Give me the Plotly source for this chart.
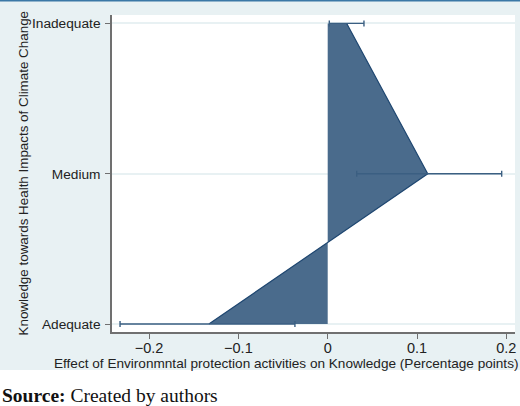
import plotly.graph_objects as go

categories = ["Adequate", "Medium", "Inadequate"]
cat_pos = [1, 2, 3]
effect = [-0.133, 0.112, 0.0213]
ci_low = [-0.2325, 0.0325, 0.0018]
ci_high = [-0.0367, 0.1948, 0.0406]
x_ticks = [-0.2, -0.1, 0.0, 0.1, 0.2]
x_ticktext = ["\u22120.2", "\u22120.1", "0", "0.1", "0.2"]

W, H = 520, 406
L, R, T, B = 112, 5, 15, 74
plot_w = W - L - R
plot_h = H - T - B

FILL = "#4a6b8c"
EDGE = "#1e4670"
BG = "#e8f1f3"
AXC = "#707070"
FONT = "Liberation Sans, Arial, sans-serif"

fig = go.Figure()

fig.add_trace(go.Scatter(
    x=effect, y=cat_pos, mode="lines", fill="tozerox",
    fillcolor=FILL, line=dict(color=EDGE, width=1.2),
    hoverinfo="skip", showlegend=False))

fig.add_trace(go.Scatter(
    x=effect, y=cat_pos, mode="markers",
    marker=dict(size=1, color="rgba(0,0,0,0)"),
    error_x=dict(type="data", symmetric=False,
                 array=[h - e for h, e in zip(ci_high, effect)],
                 arrayminus=[e - l for l, e in zip(ci_low, effect)],
                 color="#3b5f82", thickness=1.4, width=3),
    showlegend=False))

fig.update_layout(
    width=W, height=H,
    margin=dict(l=L, r=R, t=T, b=B, pad=0),
    paper_bgcolor=BG, plot_bgcolor="white",
    font=dict(family=FONT, size=13, color="#222222"),
    xaxis=dict(range=[-0.2415, 0.2097], tickvals=x_ticks, ticktext=x_ticktext,
               showgrid=False, zeroline=False, showline=True, linecolor=AXC,
               linewidth=1.5, ticks="outside", ticklen=5, tickcolor=AXC,
               ticklabelstandoff=-3,
               tickfont=dict(size=14.5, color="#222222")),
    yaxis=dict(range=[0.947, 3.056], tickvals=cat_pos, ticktext=categories,
               showgrid=True, gridcolor=BG, gridwidth=1.5, zeroline=False,
               showline=True, linecolor=AXC, linewidth=1.5, ticks="outside",
               ticklen=5, tickcolor=AXC, ticklabelstandoff=2,
               tickfont=dict(size=13.7, color="#222222")),
    shapes=[
        dict(type="rect", xref="paper", yref="paper",
             x0=-L / plot_w - 0.01, x1=1 + R / plot_w + 0.01,
             y0=-(B + 2) / plot_h, y1=-(370 - (T + plot_h)) / plot_h,
             fillcolor="white", line=dict(width=0), layer="below"),
        dict(type="line", xref="paper", yref="paper",
             x0=-L / plot_w - 0.01, x1=1 + R / plot_w + 0.01,
             y0=1 + (T - 0.7) / plot_h, y1=1 + (T - 0.7) / plot_h,
             line=dict(color="#3b78a6", width=1.6)),
    ],
    annotations=[
        dict(text="Effect of Environmntal protection activities on Knowledge (Percentage points)",
             xref="paper", yref="paper", x=(286 - L) / plot_w, y=-(363 - (T + plot_h)) / plot_h,
             xanchor="center", yanchor="middle", showarrow=False,
             font=dict(size=13.6, color="#222222")),
        dict(text="Knowledge towards Health Impacts of Climate Change",
             xref="paper", yref="paper", x=(23 - L) / plot_w, y=0.5,
             xanchor="center", yanchor="middle", textangle=-90, showarrow=False,
             font=dict(size=13.4, color="#222222")),
        dict(text="<b>Source:</b> Created by authors",
             xref="paper", yref="paper", x=(0 - L) / plot_w, y=-(395 - (T + plot_h)) / plot_h,
             xanchor="left", yanchor="middle", showarrow=False,
             font=dict(family="Liberation Serif, Times New Roman, serif", size=19.5, color="#111111")),
    ],
)

fig.write_html("out.html")
